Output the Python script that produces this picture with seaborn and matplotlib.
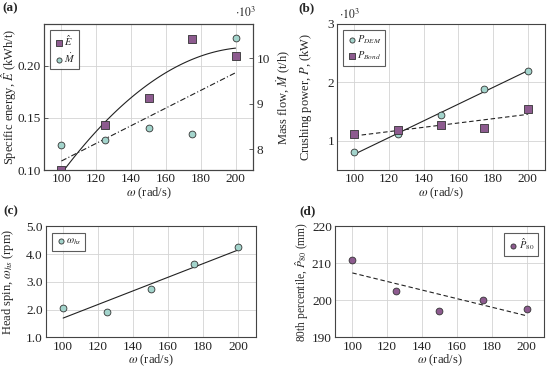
import numpy as np
import pandas as pd
import matplotlib
matplotlib.use("Agg")
import matplotlib.pyplot as plt
from matplotlib.ticker import FuncFormatter
import seaborn as sns

# data
omega = [100, 125, 150, 175, 200]
spec_energy = [0.100, 0.1436, 0.169, 0.226, 0.209]
mass_flow = [8090, 8200, 8470, 8330, 10450]
p_dem = [800, 1110, 1435, 1880, 2200]
p_bond = [1110, 1185, 1270, 1225, 1550]
head_spin = [2.05, 1.93, 2.74, 3.64, 4.26]
p80 = [210.9, 202.5, 197.1, 200.0, 197.7]

purple = "#8d5b8f"
teal = "#a3d4cc"
edge = "#333333"

sns.set_theme(style="whitegrid")
plt.rcParams["font.family"] = ["Liberation Serif", "DejaVu Serif"]
plt.rcParams["mathtext.fontset"] = "stix"
plt.rcParams["font.size"] = 9

df = pd.DataFrame({"omega": omega, "E": spec_energy, "M": mass_flow,
                   "P_dem": p_dem, "P_bond": p_bond, "ws": head_spin, "p80": p80})

fig = plt.figure(figsize=(5.5, 3.68), dpi=100)
axa = fig.add_axes([0.08, 0.538, 0.38, 0.397])
axb = fig.add_axes([0.613, 0.538, 0.378, 0.397])
axc = fig.add_axes([0.083, 0.083, 0.382, 0.302])
axd = fig.add_axes([0.609, 0.083, 0.38, 0.302])

sq = dict(marker="s", s=26, color=purple, edgecolor=edge, linewidth=0.6, zorder=5)
ci = dict(marker="o", s=24, color=teal, edgecolor=edge, linewidth=0.6, zorder=5)
line_kw = dict(color="#222222", linewidth=0.8)
LBL = 9
TICK = 9.5


def style(ax, ylim, yticks):
    ax.set_xlim(90, 210)
    ax.set_xticks([100, 120, 140, 160, 180, 200])
    ax.set_ylim(*ylim)
    ax.set_yticks(yticks)
    ax.set_facecolor("white")
    ax.grid(True, color="#d3d3d3", linewidth=0.6)
    for s in ax.spines.values():
        s.set_color("#444444")
        s.set_linewidth(0.8)
    ax.tick_params(direction="in", length=3, width=0.6, color="#444444",
                   labelsize=TICK, pad=2.2, colors="#222222")
    ax.set_xlabel(r"$\omega$ (rad/s)", fontsize=LBL, labelpad=0)


def legend(ax, loc):
    lg = ax.legend(loc=loc, fontsize=7.5, frameon=True, fancybox=False,
                   handletextpad=0.0, handlelength=1.0, borderpad=0.35,
                   labelspacing=0.35, markerscale=0.75, borderaxespad=0.6)
    lg.get_frame().set_edgecolor("#333333")
    lg.get_frame().set_linewidth(0.8)
    return lg


# (a)
ax2 = axa.twinx()
sns.regplot(data=df, x="omega", y="E", order=2, ci=None, scatter=False,
            ax=axa, line_kws=line_kw)
sns.regplot(data=df, x="omega", y="M", ci=None, scatter=False, ax=ax2,
            line_kws=dict(color="#222222", linewidth=0.8, linestyle=(0, (5, 2, 1, 2))))
sns.scatterplot(data=df, x="omega", y="E", ax=axa, label=r"$\hat{E}$", **sq)
sns.scatterplot(data=df, x="omega", y="M", ax=ax2, **ci)
axa.scatter([], [], label=r"$\dot{M}$", **ci)
style(axa, (0.10, 0.24), [0.10, 0.15, 0.20])
axa.yaxis.set_major_formatter(FuncFormatter(lambda v, p: f"{v:.2f}"))
ax2.set_ylim(7540, 10750)
ax2.set_yticks([8000, 9000, 10000])
ax2.yaxis.set_major_formatter(FuncFormatter(lambda v, p: f"{v/1000:.0f}"))
ax2.grid(False)
ax2.tick_params(direction="in", length=3, width=0.6, color="#444444",
                labelsize=TICK, pad=2.5)
for s in ax2.spines.values():
    s.set_color("#444444")
    s.set_linewidth(0.8)
axa.set_ylabel(r"Specific energy, $\hat{E}$ (kWh/t)", fontsize=LBL)
axa.yaxis.set_label_coords(-0.122, 0.5)
ax2.set_ylabel(r"Mass flow, $\dot{M}$ (t/h)", fontsize=LBL)
ax2.yaxis.set_label_coords(1.105, 0.5)
ax2.yaxis.label.set_rotation(90)
ax2.set_xlabel("")
legend(axa, "upper left")
fig.text(0.428, 0.955, r"$\cdot10^3$", fontsize=8.5)

# (b)
sns.regplot(data=df, x="omega", y="P_dem", ci=None, scatter=False, ax=axb, line_kws=line_kw)
sns.regplot(data=df, x="omega", y="P_bond", ci=None, scatter=False, ax=axb,
            line_kws=dict(color="#222222", linewidth=0.8, linestyle=(0, (4, 2.5))))
sns.scatterplot(data=df, x="omega", y="P_dem", ax=axb, label=r"$P_{DEM}$", **ci)
sns.scatterplot(data=df, x="omega", y="P_bond", ax=axb, label=r"$P_{Bond}$", **sq)
style(axb, (500, 3000), [1000, 2000, 3000])
axb.yaxis.set_major_formatter(FuncFormatter(lambda v, p: f"{v/1000:.0f}"))
axb.set_ylabel(r"Crushing power, $P$, (kW)", fontsize=LBL)
axb.yaxis.set_label_coords(-0.11, 0.5)
legend(axb, "upper left")
fig.text(0.617, 0.948, r"$\cdot10^3$", fontsize=8.5)

# (c)
sns.regplot(data=df, x="omega", y="ws", ci=None, scatter=False, ax=axc, line_kws=line_kw)
sns.scatterplot(data=df, x="omega", y="ws", ax=axc, label=r"$\omega_{hs}$", **ci)
style(axc, (1.0, 5.0), [1.0, 2.0, 3.0, 4.0, 5.0])
axc.yaxis.set_major_formatter(FuncFormatter(lambda v, p: f"{v:.1f}"))
axc.set_ylabel(r"Head spin, $\omega_{hs}$ (rpm)", fontsize=LBL)
axc.yaxis.set_label_coords(-0.14, 0.5)
legend(axc, "upper left")

# (d)
sns.regplot(data=df, x="omega", y="p80", ci=None, scatter=False, ax=axd,
            line_kws=dict(color="#222222", linewidth=0.8, linestyle=(0, (4, 2.5))))
sns.scatterplot(data=df, x="omega", y="p80", ax=axd, label=r"$\hat{P}_{80}$",
                marker="o", s=24, color=purple, edgecolor=edge, linewidth=0.6, zorder=5)
style(axd, (190, 220), [190, 200, 210, 220])
axd.set_ylabel(r"80th percentile, $\hat{P}_{80}$ (mm)", fontsize=8.3)
axd.yaxis.set_label_coords(-0.115, 0.5)
legend(axd, "upper right")

for lbl, x, y in [("(a)", 0.004, 0.968), ("(b)", 0.543, 0.968),
                  ("(c)", 0.006, 0.418), ("(d)", 0.545, 0.418)]:
    fig.text(x, y, lbl, fontsize=9.5, fontweight="bold")

fig.savefig("out.png", dpi=100)
